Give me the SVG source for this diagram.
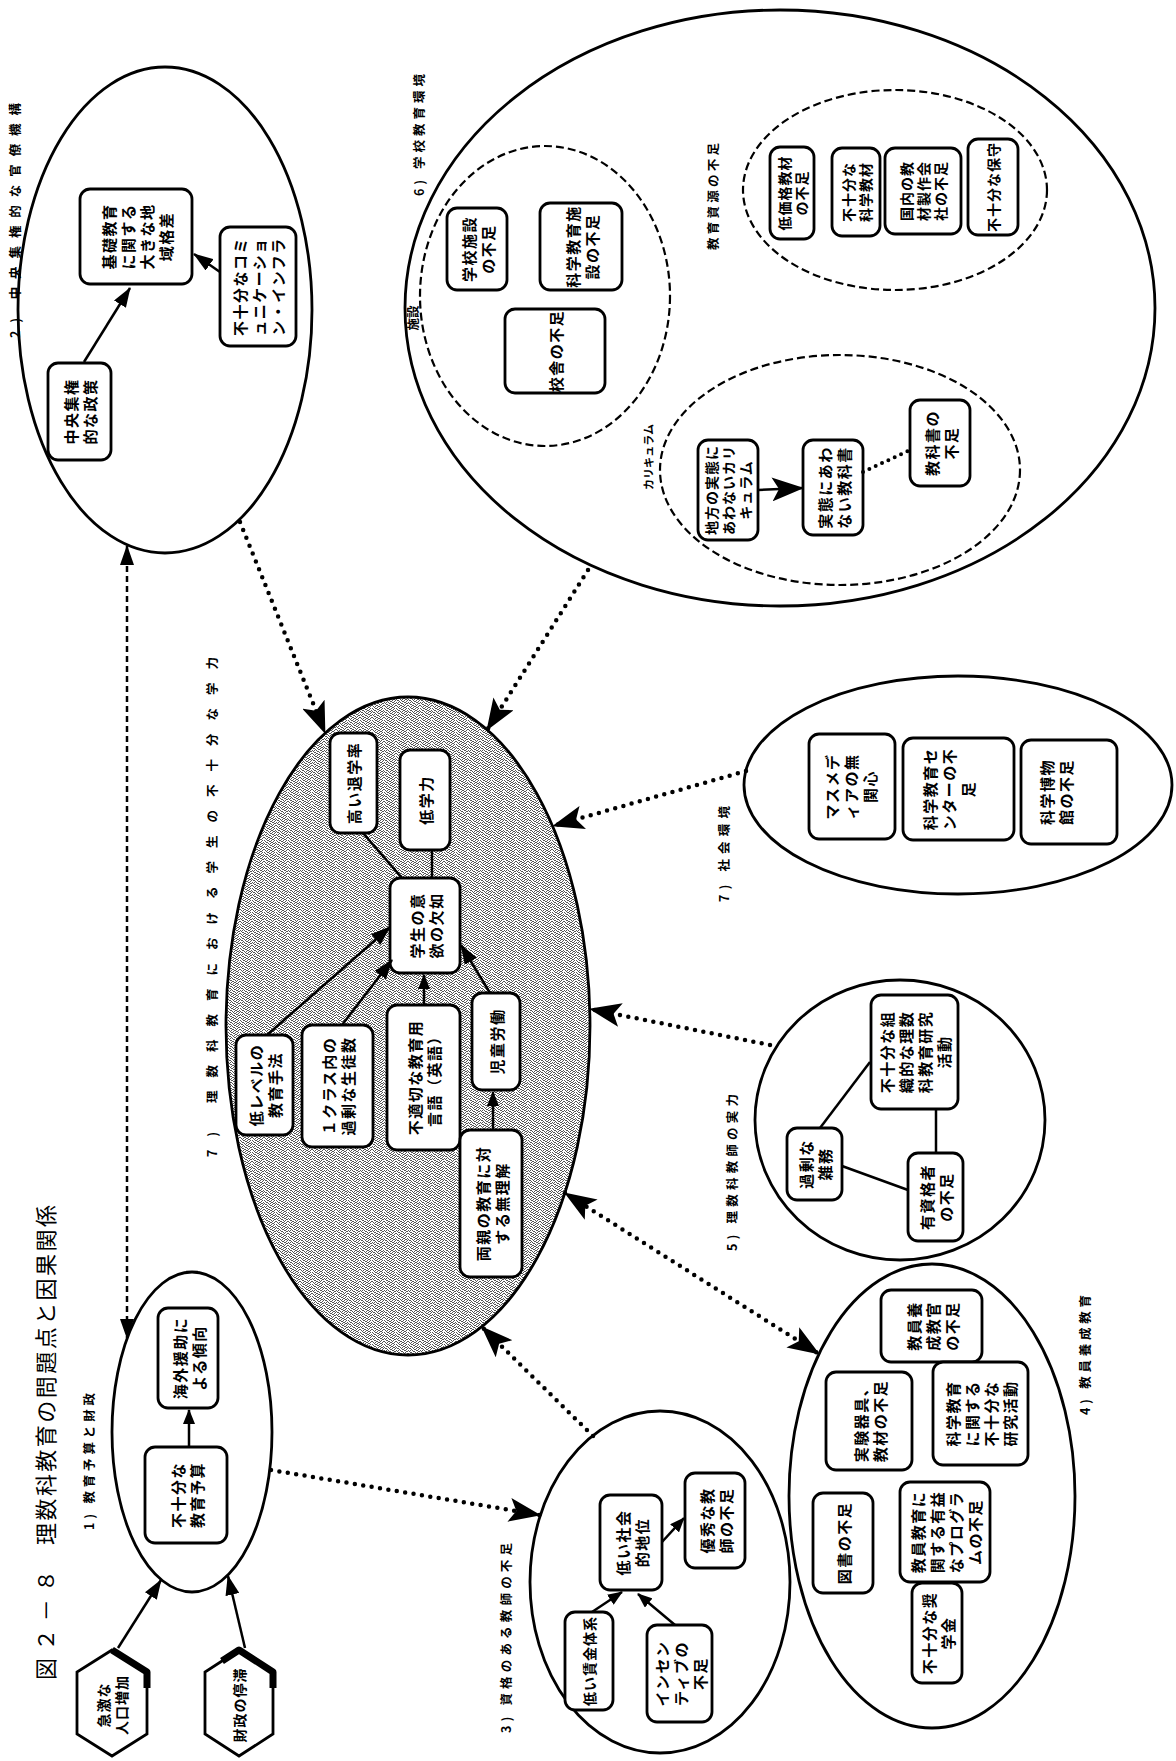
<svg xmlns="http://www.w3.org/2000/svg" width="1176" height="1761" viewBox="0 0 1176 1761">
<style>
.el{fill:#fff;stroke:#000;stroke-width:2.8}
.dl{fill:none;stroke:#000;stroke-width:2.2;stroke-dasharray:8 4}
.bx{fill:#fff;stroke:#000;stroke-width:2.8}
.t{font-family:"Noto Sans CJK JP","Noto Sans CJK SC",sans-serif;font-weight:bold;font-size:15px;letter-spacing:1.5px;text-anchor:middle;dominant-baseline:central;fill:#000}
.t tspan{dominant-baseline:central}
.t14{font-size:14px;letter-spacing:1px}
.lb{font-family:"Noto Sans CJK JP","Noto Sans CJK SC",sans-serif;font-weight:bold;font-size:12.5px;fill:#000;dominant-baseline:central}
.ttl{font-family:"Noto Sans CJK JP","Noto Sans CJK SC",sans-serif;font-size:22px;fill:#000;dominant-baseline:central}
.sl{fill:none;stroke:#000;stroke-width:2.5}
.dt{fill:none;stroke:#000;stroke-width:4.5;stroke-dasharray:0 8.5;stroke-linecap:round}
.ds{fill:none;stroke:#000;stroke-width:2.5;stroke-dasharray:6 4}
.sh{fill:none;stroke:#000;stroke-width:7;stroke-linejoin:round}
</style>
<defs>
<pattern id="stip" width="12" height="12" patternUnits="userSpaceOnUse">
<rect width="12" height="12" fill="#ffffff"/>
<path fill="#555" d="M0 0h1v1h-1z M3 0h2v1h-2z M7 0h1v1h-1z M10 0h1v1h-1z M1 1h1v1h-1z M5 1h2v1h-2z M9 1h1v1h-1z M2 2h2v1h-2z M7 2h2v1h-2z M11 2h1v1h-1z M0 3h1v1h-1z M4 3h1v1h-1z M6 3h1v1h-1z M9 3h2v1h-2z M1 4h2v1h-2z M5 4h1v1h-1z M8 4h1v1h-1z M11 4h1v1h-1z M3 5h1v1h-1z M6 5h2v1h-2z M10 5h1v1h-1z M0 6h1v1h-1z M2 6h1v1h-1z M4 6h1v1h-1z M8 6h2v1h-2z M1 7h1v1h-1z M5 7h2v1h-2z M10 7h2v1h-2z M2 8h2v1h-2z M7 8h1v1h-1z M9 8h1v1h-1z M0 9h1v1h-1z M4 9h2v1h-2z M8 9h1v1h-1z M11 9h1v1h-1z M1 10h1v1h-1z M3 10h1v1h-1z M6 10h2v1h-2z M10 10h1v1h-1z M2 11h1v1h-1z M5 11h1v1h-1z M8 11h2v1h-2z"/>
</pattern>
<marker id="s" markerUnits="userSpaceOnUse" markerWidth="15" markerHeight="12" refX="14" refY="6" orient="auto"><path d="M0,0 L15,6 L0,12 z" fill="#000"/></marker>
<marker id="m" markerUnits="userSpaceOnUse" markerWidth="20" markerHeight="14" refX="19" refY="7" orient="auto-start-reverse"><path d="M0,0 L20,7 L0,14 z" fill="#000"/></marker>
<marker id="b" markerUnits="userSpaceOnUse" markerWidth="32" markerHeight="24" refX="31" refY="12" orient="auto-start-reverse"><path d="M0,0 L32,12 L0,24 L7,12 z" fill="#000"/></marker>
</defs>
<rect width="1176" height="1761" fill="#fff"/>

<g id="title">
<text class="ttl" transform="translate(44 1680) rotate(-90)" textLength="110" lengthAdjust="spacing">図２－８</text>
<text class="ttl" transform="translate(44 1545) rotate(-90)" textLength="340" lengthAdjust="spacing">理数科教育の問題点と因果関係</text>
</g>

<!-- container 2 -->
<g id="c2">
<ellipse class="el" cx="165" cy="310" rx="147" ry="243"/>
<text class="lb" transform="translate(14 338) rotate(-90)" textLength="235" lengthAdjust="spacing">2) 中央集権的な官僚機構</text>
</g>
<g id="n2a"><rect class="bx" x="48" y="363" width="63" height="97" rx="10"/><text class="t" transform="translate(79.5 411.5) rotate(-90)"><tspan x="0" y="-9.5">中央集権</tspan><tspan x="0" y="9.5">的な政策</tspan></text></g>
<g id="n2b"><rect class="bx" x="80" y="189" width="112" height="95" rx="10"/><text class="t" transform="translate(136 236.5) rotate(-90)"><tspan x="0" y="-28.5">基礎教育</tspan><tspan x="0" y="-9.5">に関する</tspan><tspan x="0" y="9.5">大きな地</tspan><tspan x="0" y="28.5">域格差</tspan></text></g>
<g id="n2c"><rect class="bx" x="220" y="227" width="76" height="119" rx="10"/><text class="t" transform="translate(258 286.5) rotate(-90)"><tspan x="0" y="-19">不十分なコミ</tspan><tspan x="0" y="0">ュニケーショ</tspan><tspan x="0" y="19">ン・インフラ</tspan></text></g>

<!-- container 1 -->
<g id="c1">
<ellipse class="el" cx="192" cy="1432" rx="80" ry="160"/>
<text class="lb" transform="translate(88 1530) rotate(-90)" textLength="137" lengthAdjust="spacing">1) 教育予算と財政</text>
</g>
<g id="n1a"><rect class="bx" x="145" y="1447" width="82" height="96" rx="10"/><text class="t" transform="translate(186 1495) rotate(-90)"><tspan x="0" y="-9.5">不十分な</tspan><tspan x="0" y="9.5">教育予算</tspan></text></g>
<g id="n1b"><rect class="bx" x="158" y="1308" width="60" height="100" rx="10"/><text class="t" transform="translate(188 1358) rotate(-90)"><tspan x="0" y="-9.5">海外援助に</tspan><tspan x="0" y="9.5">よる傾向</tspan></text></g>

<!-- hexagons -->
<g id="hex1">
<polygon class="bx" points="112,1650 147,1672 147,1734 112,1756 77,1734 77,1672"/>
<polyline class="sh" points="112,1650 147,1672 147,1688"/>
<text class="t t14" transform="translate(112 1705) rotate(-90)"><tspan x="0" y="-9">急激な</tspan><tspan x="0" y="9">人口増加</tspan></text>
</g>
<g id="hex2">
<polygon class="bx" points="239,1650 273,1672 273,1734 239,1756 205,1734 205,1672"/>
<polyline class="sh" points="222,1661 239,1650 273,1672 273,1688"/>
<text class="t t14" transform="translate(239 1705) rotate(-90)">財政の停滞</text>
</g>

<!-- central container -->
<g id="c7">
<ellipse cx="408" cy="1026" rx="182" ry="329" fill="url(#stip)" stroke="#000" stroke-width="2.8"/>
<text class="lb" transform="translate(211 1157) rotate(-90)" textLength="500" lengthAdjust="spacing">7) 理数科教育における学生の不十分な学力</text>
</g>
<g id="n7a"><rect class="bx" x="330" y="733" width="47" height="100" rx="10"/><text class="t" transform="translate(353.5 783) rotate(-90)">高い退学率</text></g>
<g id="n7b"><rect class="bx" x="400" y="750" width="50" height="100" rx="10"/><text class="t" transform="translate(425 800) rotate(-90)">低学力</text></g>
<g id="n7c"><rect class="bx" x="390" y="878" width="70" height="95" rx="10"/><text class="t" transform="translate(425 925.5) rotate(-90)"><tspan x="0" y="-9.5">学生の意</tspan><tspan x="0" y="9.5">欲の欠如</tspan></text></g>
<g id="n7d"><rect class="bx" x="236" y="1035" width="57" height="100" rx="10"/><text class="t" transform="translate(264.5 1085) rotate(-90)"><tspan x="0" y="-9.5">低レベルの</tspan><tspan x="0" y="9.5">教育手法</tspan></text></g>
<g id="n7e"><rect class="bx" x="302" y="1025" width="71" height="122" rx="10"/><text class="t" transform="translate(337.5 1086) rotate(-90)"><tspan x="0" y="-9.5">１クラス内の</tspan><tspan x="0" y="9.5">過剰な生徒数</tspan></text></g>
<g id="n7f"><rect class="bx" x="387" y="1005" width="73" height="145" rx="10"/><text class="t" transform="translate(423.5 1077.5) rotate(-90)"><tspan x="0" y="-9.5">不適切な教育用</tspan><tspan x="0" y="9.5">言語（英語）</tspan></text></g>
<g id="n7g"><rect class="bx" x="472" y="993" width="48" height="97" rx="10"/><text class="t" transform="translate(496 1041.5) rotate(-90)">児童労働</text></g>
<g id="n7h"><rect class="bx" x="460" y="1130" width="62" height="147" rx="10"/><text class="t" transform="translate(491 1203.5) rotate(-90)"><tspan x="0" y="-9.5">両親の教育に対</tspan><tspan x="0" y="9.5">する無理解</tspan></text></g>

<!-- container 6 -->
<g id="c6">
<ellipse class="el" cx="780" cy="308" rx="375" ry="298"/>
<text class="lb" transform="translate(418 196) rotate(-90)" textLength="122" lengthAdjust="spacing">6) 学校教育環境</text>
<ellipse class="dl" cx="545" cy="296" rx="125" ry="150"/>
<ellipse class="dl" cx="895" cy="190" rx="152" ry="100"/>
<ellipse class="dl" cx="840" cy="470" rx="180" ry="115"/>
<text class="lb" text-anchor="middle" transform="translate(412 318) rotate(-90)">施設</text>
<text class="lb" transform="translate(712 250) rotate(-90)" textLength="107" lengthAdjust="spacing">教育資源の不足</text>
<text class="lb" style="font-size:11px" transform="translate(648 490) rotate(-90)" textLength="66" lengthAdjust="spacing">カリキュラム</text>
</g>
<g id="n6a"><rect class="bx" x="447" y="208" width="60" height="82" rx="10"/><text class="t" transform="translate(477 249) rotate(-90)"><tspan x="0" y="-9.5">学校施設</tspan><tspan x="0" y="9.5">の不足</tspan></text></g>
<g id="n6b"><rect class="bx" x="540" y="203" width="82" height="87" rx="10"/><text class="t" transform="translate(581 246.5) rotate(-90)"><tspan x="0" y="-9.5">科学教育施</tspan><tspan x="0" y="9.5">設の不足</tspan></text></g>
<g id="n6c"><rect class="bx" x="505" y="309" width="100" height="84" rx="10"/><text class="t" transform="translate(555 351) rotate(-90)">校舎の不足</text></g>
<g id="n6d"><rect class="bx" x="770" y="147" width="44" height="92" rx="10"/><text class="t t14" transform="translate(792 193) rotate(-90)"><tspan x="0" y="-8.5">低価格教材</tspan><tspan x="0" y="8.5">の不足</tspan></text></g>
<g id="n6e"><rect class="bx" x="832" y="148" width="48" height="88" rx="10"/><text class="t t14" transform="translate(856 192) rotate(-90)"><tspan x="0" y="-8.5">不十分な</tspan><tspan x="0" y="8.5">科学教材</tspan></text></g>
<g id="n6f"><rect class="bx" x="885" y="148" width="76" height="86" rx="10"/><text class="t t14" transform="translate(923 191) rotate(-90)"><tspan x="0" y="-17">国内の教</tspan><tspan x="0" y="0">材製作会</tspan><tspan x="0" y="17">社の不足</tspan></text></g>
<g id="n6g"><rect class="bx" x="968" y="139" width="50" height="96" rx="10"/><text class="t t14" transform="translate(993 187) rotate(-90)">不十分な保守</text></g>
<g id="n6h"><rect class="bx" x="698" y="440" width="60" height="100" rx="10"/><text class="t t14" transform="translate(728 490) rotate(-90)"><tspan x="0" y="-17">地方の実態に</tspan><tspan x="0" y="0">あわないカリ</tspan><tspan x="0" y="17">キュラム</tspan></text></g>
<g id="n6i"><rect class="bx" x="803" y="440" width="60" height="95" rx="10"/><text class="t" transform="translate(833 487.5) rotate(-90)"><tspan x="0" y="-9.5">実態にあわ</tspan><tspan x="0" y="9.5">ない教科書</tspan></text></g>
<g id="n6j"><rect class="bx" x="910" y="400" width="60" height="86" rx="10"/><text class="t" transform="translate(940 443) rotate(-90)"><tspan x="0" y="-9.5">教科書の</tspan><tspan x="0" y="9.5">不足</tspan></text></g>

<!-- social container -->
<g id="c7s">
<ellipse class="el" cx="958" cy="785" rx="214" ry="109"/>
<text class="lb" transform="translate(723 902) rotate(-90)" textLength="96" lengthAdjust="spacing">7) 社会環境</text>
</g>
<g id="n8a"><rect class="bx" x="809" y="734" width="86" height="105" rx="10"/><text class="t" transform="translate(850 786.5) rotate(-90)"><tspan x="0" y="-19">マスメデ</tspan><tspan x="0" y="0">ィアの無</tspan><tspan x="0" y="19">関心</tspan></text></g>
<g id="n8b"><rect class="bx" x="903" y="738" width="111" height="102" rx="10"/><text class="t" transform="translate(948 789) rotate(-90)"><tspan x="0" y="-19">科学教育セ</tspan><tspan x="0" y="0">ンターの不</tspan><tspan x="0" y="19">足</tspan></text></g>
<g id="n8c"><rect class="bx" x="1021" y="740" width="96" height="104" rx="10"/><text class="t" transform="translate(1055 792) rotate(-90)"><tspan x="0" y="-9.5">科学博物</tspan><tspan x="0" y="9.5">館の不足</tspan></text></g>

<!-- container 5 -->
<g id="c5">
<ellipse class="el" cx="900" cy="1120" rx="145" ry="140"/>
<text class="lb" transform="translate(731 1251) rotate(-90)" textLength="157" lengthAdjust="spacing">5) 理数科教師の実力</text>
</g>
<g id="n5a"><rect class="bx" x="871" y="995" width="87" height="114" rx="10"/><text class="t" transform="translate(914.5 1052) rotate(-90)"><tspan x="0" y="-28.5">不十分な組</tspan><tspan x="0" y="-9.5">織的な理数</tspan><tspan x="0" y="9.5">科教育研究</tspan><tspan x="0" y="28.5">活動</tspan></text></g>
<g id="n5b"><rect class="bx" x="787" y="1128" width="55" height="72" rx="10"/><text class="t" transform="translate(814.5 1164) rotate(-90)"><tspan x="0" y="-9.5">過剰な</tspan><tspan x="0" y="9.5">雑務</tspan></text></g>
<g id="n5c"><rect class="bx" x="908" y="1153" width="55" height="88" rx="10"/><text class="t" transform="translate(935.5 1197) rotate(-90)"><tspan x="0" y="-9.5">有資格者</tspan><tspan x="0" y="9.5">の不足</tspan></text></g>

<!-- container 4 -->
<g id="c4">
<ellipse class="el" cx="932" cy="1496" rx="143" ry="232"/>
<text class="lb" transform="translate(1084 1415) rotate(-90)" textLength="120" lengthAdjust="spacing">4) 教員養成教育</text>
</g>
<g id="n4a"><rect class="bx" x="881" y="1290" width="101" height="72" rx="10"/><text class="t" transform="translate(931.5 1326) rotate(-90)"><tspan x="0" y="-19">教員養</tspan><tspan x="0" y="0">成教官</tspan><tspan x="0" y="19">の不足</tspan></text></g>
<g id="n4b"><rect class="bx" x="826" y="1372" width="86" height="98" rx="10"/><text class="t" transform="translate(869 1421) rotate(-90)"><tspan x="0" y="-9.5">実験器具、</tspan><tspan x="0" y="9.5">教材の不足</tspan></text></g>
<g id="n4c"><rect class="bx" x="933" y="1362" width="95" height="103" rx="10"/><text class="t" transform="translate(980.5 1413.5) rotate(-90)"><tspan x="0" y="-28.5">科学教育</tspan><tspan x="0" y="-9.5">に関する</tspan><tspan x="0" y="9.5">不十分な</tspan><tspan x="0" y="28.5">研究活動</tspan></text></g>
<g id="n4d"><rect class="bx" x="813" y="1493" width="60" height="100" rx="10"/><text class="t" transform="translate(843 1543) rotate(-90)">図書の不足</text></g>
<g id="n4e"><rect class="bx" x="900" y="1482" width="90" height="100" rx="10"/><text class="t" transform="translate(945 1532) rotate(-90)"><tspan x="0" y="-28.5">教員教育に</tspan><tspan x="0" y="-9.5">関する有益</tspan><tspan x="0" y="9.5">なプログラ</tspan><tspan x="0" y="28.5">ムの不足</tspan></text></g>
<g id="n4f"><rect class="bx" x="912" y="1583" width="50" height="100" rx="10"/><text class="t" transform="translate(937 1633) rotate(-90)"><tspan x="0" y="-9.5">不十分な奨</tspan><tspan x="0" y="9.5">学金</tspan></text></g>

<!-- container 3 -->
<g id="c3">
<ellipse class="el" cx="660" cy="1582" rx="130" ry="171"/>
<text class="lb" transform="translate(505 1733) rotate(-90)" textLength="190" lengthAdjust="spacing">3) 資格のある教師の不足</text>
</g>
<g id="n3a"><rect class="bx" x="600" y="1495" width="62" height="95" rx="10"/><text class="t" transform="translate(631 1542.5) rotate(-90)"><tspan x="0" y="-9.5">低い社会</tspan><tspan x="0" y="9.5">的地位</tspan></text></g>
<g id="n3b"><rect class="bx" x="685" y="1473" width="60" height="95" rx="10"/><text class="t" transform="translate(715 1520.5) rotate(-90)"><tspan x="0" y="-9.5">優秀な教</tspan><tspan x="0" y="9.5">師の不足</tspan></text></g>
<g id="n3c"><rect class="bx" x="565" y="1612" width="48" height="98" rx="10"/><text class="t t14" transform="translate(589 1661) rotate(-90)">低い賃金体系</text></g>
<g id="n3d"><rect class="bx" x="647" y="1625" width="65" height="97" rx="10"/><text class="t" transform="translate(679.5 1673.5) rotate(-90)"><tspan x="0" y="-19">インセン</tspan><tspan x="0" y="0">ティブの</tspan><tspan x="0" y="19">不足</tspan></text></g>

<g id="connectors">
<path class="dt" d="M240,522 L325,733" marker-end="url(#b)"/>
<path class="ds" d="M127,546 L127,1338" marker-start="url(#m)" marker-end="url(#m)"/>
<path class="dt" d="M588,570 L487,730" marker-end="url(#b)"/>
<path class="dt" d="M746,771 L553,826" marker-end="url(#b)"/>
<path class="dt" d="M770,1045 L590,1009" marker-end="url(#b)"/>
<path class="dt" d="M565,1193 L819,1354" marker-start="url(#b)" marker-end="url(#b)"/>
<path class="dt" d="M593,1436 L482,1327" marker-end="url(#b)"/>
<path class="dt" d="M271,1470 L540,1515" marker-end="url(#b)"/>
<path class="sl" d="M118,1648 L161,1580" marker-end="url(#m)"/>
<path class="sl" d="M245,1648 L228,1576" marker-end="url(#m)"/>
<path class="sl" d="M84,362 L130,288" marker-end="url(#m)"/>
<path class="sl" d="M220,272 L194,254" marker-end="url(#m)"/>
<path class="sl" d="M189,1447 L189,1410" marker-end="url(#s)"/>
<path class="sl" d="M267,1035 L390,927" marker-end="url(#m)"/>
<path class="sl" d="M342,1025 L392,960" marker-end="url(#m)"/>
<path class="sl" d="M424,1005 L424,975" marker-end="url(#s)"/>
<path class="sl" d="M490,993 L461,945" marker-end="url(#m)"/>
<path class="sl" d="M493,1130 L493,1092" marker-end="url(#s)"/>
<path class="sl" d="M432,878 L432,850"/>
<path class="sl" d="M402,878 L363,833"/>
<path class="sl" d="M758,490 L803,488" marker-end="url(#b)"/>
<path class="dt" style="stroke-width:4;stroke-dasharray:0 7" d="M863,472 L910,450"/>
<path class="sl" d="M870,1062 L820,1128"/>
<path class="sl" d="M936,1109 L936,1153"/>
<path class="sl" d="M842,1166 L908,1190"/>
<path class="sl" d="M662,1542 L684,1518" marker-end="url(#s)"/>
<path class="sl" d="M592,1612 L622,1592" marker-end="url(#s)"/>
<path class="sl" d="M675,1625 L638,1594" marker-end="url(#s)"/>
</g>
</svg>
